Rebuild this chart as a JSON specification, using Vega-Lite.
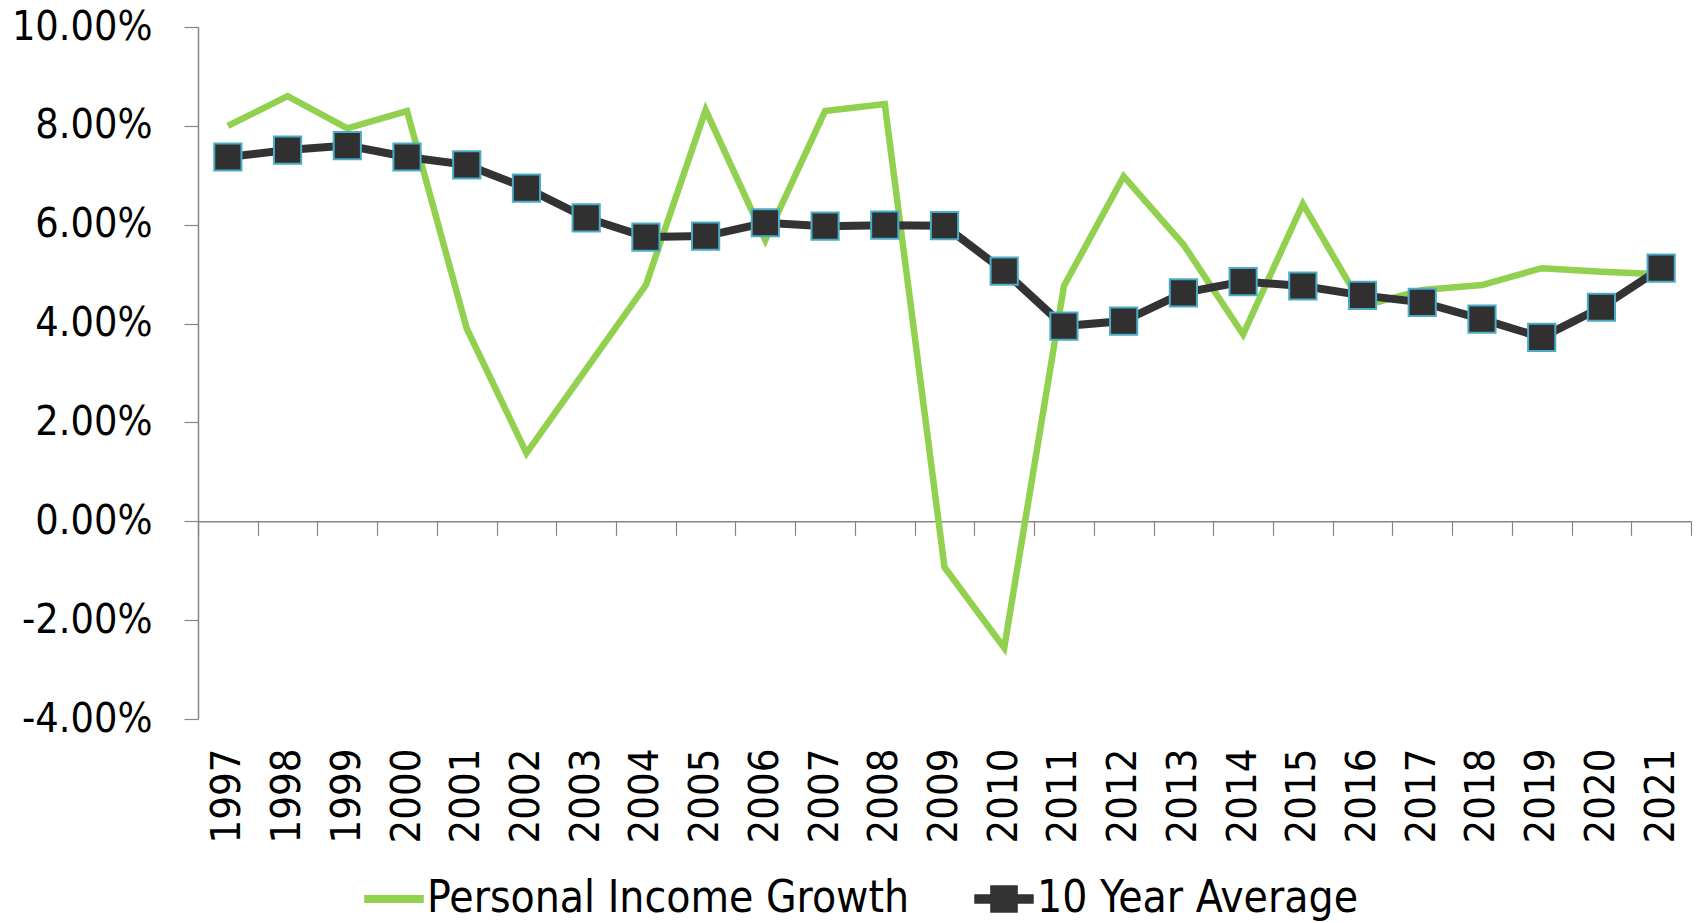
{
  "$schema": "https://vega.github.io/schema/vega-lite/v6.json",
  "width": 1493,
  "height": 692,
  "autosize": {"type": "none"},
  "padding": {"left": 198, "top": 27, "right": 9, "bottom": 204},
  "background": "white",
  "config": {"view": {"stroke": null}, "font": "DejaVu Sans Condensed, Roboto"},
  "data": {
    "values": [
      {"year": 1997, "series": "Personal Income Growth", "value": 0.0800},
      {"year": 1998, "series": "Personal Income Growth", "value": 0.0860},
      {"year": 1999, "series": "Personal Income Growth", "value": 0.0795},
      {"year": 2000, "series": "Personal Income Growth", "value": 0.0830},
      {"year": 2001, "series": "Personal Income Growth", "value": 0.0390},
      {"year": 2002, "series": "Personal Income Growth", "value": 0.0138},
      {"year": 2003, "series": "Personal Income Growth", "value": 0.0308},
      {"year": 2004, "series": "Personal Income Growth", "value": 0.0478},
      {"year": 2005, "series": "Personal Income Growth", "value": 0.0832},
      {"year": 2006, "series": "Personal Income Growth", "value": 0.0569},
      {"year": 2007, "series": "Personal Income Growth", "value": 0.0830},
      {"year": 2008, "series": "Personal Income Growth", "value": 0.0844},
      {"year": 2009, "series": "Personal Income Growth", "value": -0.0093},
      {"year": 2010, "series": "Personal Income Growth", "value": -0.0256},
      {"year": 2011, "series": "Personal Income Growth", "value": 0.0476},
      {"year": 2012, "series": "Personal Income Growth", "value": 0.0698},
      {"year": 2013, "series": "Personal Income Growth", "value": 0.0560},
      {"year": 2014, "series": "Personal Income Growth", "value": 0.0378},
      {"year": 2015, "series": "Personal Income Growth", "value": 0.0642},
      {"year": 2016, "series": "Personal Income Growth", "value": 0.0435},
      {"year": 2017, "series": "Personal Income Growth", "value": 0.0468},
      {"year": 2018, "series": "Personal Income Growth", "value": 0.0478},
      {"year": 2019, "series": "Personal Income Growth", "value": 0.0512},
      {"year": 2020, "series": "Personal Income Growth", "value": 0.0505},
      {"year": 2021, "series": "Personal Income Growth", "value": 0.0500},
      {"year": 1997, "series": "10 Year Average", "value": 0.0737},
      {"year": 1998, "series": "10 Year Average", "value": 0.0751},
      {"year": 1999, "series": "10 Year Average", "value": 0.0760},
      {"year": 2000, "series": "10 Year Average", "value": 0.0737},
      {"year": 2001, "series": "10 Year Average", "value": 0.0721},
      {"year": 2002, "series": "10 Year Average", "value": 0.0674},
      {"year": 2003, "series": "10 Year Average", "value": 0.0614},
      {"year": 2004, "series": "10 Year Average", "value": 0.0575},
      {"year": 2005, "series": "10 Year Average", "value": 0.0577},
      {"year": 2006, "series": "10 Year Average", "value": 0.0604},
      {"year": 2007, "series": "10 Year Average", "value": 0.0597},
      {"year": 2008, "series": "10 Year Average", "value": 0.0599},
      {"year": 2009, "series": "10 Year Average", "value": 0.0598},
      {"year": 2010, "series": "10 Year Average", "value": 0.0506},
      {"year": 2011, "series": "10 Year Average", "value": 0.0395},
      {"year": 2012, "series": "10 Year Average", "value": 0.0405},
      {"year": 2013, "series": "10 Year Average", "value": 0.0462},
      {"year": 2014, "series": "10 Year Average", "value": 0.0485},
      {"year": 2015, "series": "10 Year Average", "value": 0.0476},
      {"year": 2016, "series": "10 Year Average", "value": 0.0457},
      {"year": 2017, "series": "10 Year Average", "value": 0.0443},
      {"year": 2018, "series": "10 Year Average", "value": 0.0409},
      {"year": 2019, "series": "10 Year Average", "value": 0.0372},
      {"year": 2020, "series": "10 Year Average", "value": 0.0433},
      {"year": 2021, "series": "10 Year Average", "value": 0.0512}
    ]
  },
  "layer": [
    {
      "mark": {"type": "point", "opacity": 0},
      "encoding": {
        "x": {
          "field": "year", "type": "quantitative",
          "scale": {"domain": [1996.5, 2021.5], "nice": false, "zero": false},
          "title": null,
          "axis": {
            "orient": "bottom",
            "values": [1996.5, 1997.5, 1998.5, 1999.5, 2000.5, 2001.5, 2002.5, 2003.5, 2004.5, 2005.5, 2006.5, 2007.5, 2008.5, 2009.5, 2010.5, 2011.5, 2012.5, 2013.5, 2014.5, 2015.5, 2016.5, 2017.5, 2018.5, 2019.5, 2020.5, 2021.5],
            "labels": false, "ticks": true, "tickSize": 14, "tickColor": "#868686", "tickWidth": 1.2,
            "domain": true, "domainColor": "#868686", "domainWidth": 1.5,
            "grid": false, "offset": -197.7
          }
        },
        "y": {"field": "value", "type": "quantitative", "scale": {"domain": [-0.04, 0.10], "nice": false}, "title": null}
      }
    },
    {
      "transform": [{"filter": "datum.series === 'Personal Income Growth'"}],
      "mark": {"type": "line", "strokeWidth": 6.5, "strokeJoin": "miter"},
      "encoding": {
        "x": {
          "field": "year", "type": "quantitative",
          "scale": {"domain": [1996.5, 2021.5], "nice": false, "zero": false},
          "title": null,
          "axis": {
            "orient": "bottom",
            "values": [1997, 1998, 1999, 2000, 2001, 2002, 2003, 2004, 2005, 2006, 2007, 2008, 2009, 2010, 2011, 2012, 2013, 2014, 2015, 2016, 2017, 2018, 2019, 2020, 2021],
            "format": "d", "labelAngle": -90, "labelFontSize": 41.5, "labelColor": "black",
            "ticks": false, "domain": false, "grid": false, "labelPadding": 29,
            "labelOverlap": false, "labelFlush": false, "labelBound": false
          }
        },
        "y": {
          "field": "value", "type": "quantitative",
          "scale": {"domain": [-0.04, 0.10], "nice": false},
          "title": null,
          "axis": {
            "values": [-0.04, -0.02, 0, 0.02, 0.04, 0.06, 0.08, 0.10],
            "labelExpr": "replace(format(datum.value, '.2%'), '−', '-')",
            "grid": false,
            "domainColor": "#868686", "domainWidth": 1.5,
            "tickColor": "#868686", "tickSize": 14, "tickWidth": 1.2,
            "labelFontSize": 41, "labelColor": "black",
            "labelPadding": 32
          }
        },
        "color": {
          "field": "series", "type": "nominal",
          "scale": {"domain": ["Personal Income Growth", "10 Year Average"], "range": ["#92d050", "#333333"]},
          "legend": {
            "title": null, "orient": "none", "legendX": 166, "legendY": 842,
            "direction": "horizontal", "labelFontSize": 44, "labelColor": "black",
            "labelLimit": 1000,
            "symbolSize": 3364, "labelOffset": 3, "columnPadding": 62,
            "encode": {
              "symbols": {
                "update": {
                  "shape": [
                    {"test": "datum.value === '10 Year Average'", "value": "M-1,-0.14H-0.45V-0.45H0.45V-0.14H1V0.14H0.45V0.45H-0.45V0.14H-1Z"},
                    {"value": "M-1,-0.11H1V0.11H-1Z"}
                  ],
                  "fill": [
                    {"test": "datum.value === '10 Year Average'", "value": "#333333"},
                    {"value": "#92d050"}
                  ],
                  "stroke": [
                    {"test": "datum.value === '10 Year Average'", "value": "#4bacc6"},
                    {"value": "#92d050"}
                  ],
                  "strokeWidth": {"value": 1.5},
                  "opacity": {"value": 1},
                  "fillOpacity": {"value": 1},
                  "strokeOpacity": {"value": 1}
                }
              }
            }
          }
        }
      }
    },
    {
      "transform": [{"filter": "datum.series === '10 Year Average'"}],
      "mark": {"type": "line", "strokeWidth": 8, "color": "#333333"},
      "encoding": {
        "x": {"field": "year", "type": "quantitative", "scale": {"domain": [1996.5, 2021.5], "nice": false, "zero": false}, "title": null, "axis": null},
        "y": {"field": "value", "type": "quantitative", "scale": {"domain": [-0.04, 0.10], "nice": false}, "title": null}
      }
    },
    {
      "transform": [{"filter": "datum.series === '10 Year Average'"}],
      "mark": {"type": "point", "shape": "square", "filled": true, "fill": "#303030", "stroke": "#4bacc6", "strokeWidth": 2, "size": 740, "opacity": 1},
      "encoding": {
        "x": {"field": "year", "type": "quantitative", "scale": {"domain": [1996.5, 2021.5], "nice": false, "zero": false}, "title": null, "axis": null},
        "y": {"field": "value", "type": "quantitative", "scale": {"domain": [-0.04, 0.10], "nice": false}, "title": null}
      }
    }
  ],
  "resolve": {"scale": {"x": "independent"}, "axis": {"x": "independent"}}
}
